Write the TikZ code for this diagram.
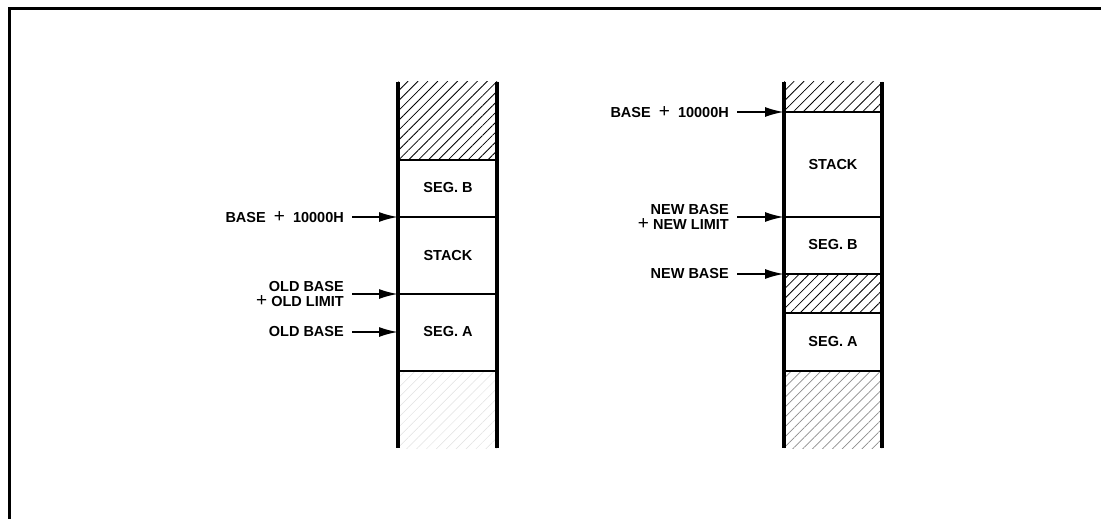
\documentclass[tikz,border=0pt]{standalone}
\usepackage{fontspec}
\setmainfont{Liberation Sans}
\usetikzlibrary{patterns.meta,arrows.meta}
\begin{document}
\begin{tikzpicture}[x=1pt,y=-1pt,
  wall/.style={line width=3.6pt},
  divider/.style={line width=2pt},
  hatch/.style={pattern={Lines[angle=45,distance=7pt,line width=0.8pt]}},
  fadehatch/.style={pattern={Lines[angle=45,distance=7pt,line width=0.7pt]},pattern color=black!45},
  faintest/.style={pattern={Lines[angle=45,distance=7pt,line width=0.5pt]},pattern color=black!12},
  lbl/.style={anchor=east,inner sep=0pt,align=right,font=\fontsize{14.5}{16}\selectfont\bfseries},
  seg/.style={inner sep=0pt,font=\fontsize{14.5}{16}\selectfont\bfseries},
  ptr/.style={line width=2pt,-{Latex[length=19pt,width=10pt]},shorten <=8pt}]
\newcommand{\pls}{{\mdseries\fontsize{19}{16}\selectfont+}}
\useasboundingbox (0,0) rectangle (1101,519);
% frame
\draw[line width=3pt] (9,519) -- (9,9) -- (1101,9);

% ---------------- left column ----------------
\fill[hatch] (398,82) rectangle (497,160);
\fill[faintest] (398,371) rectangle (497,448);
\draw[divider] (398,160) -- (497,160);
\draw[divider] (398,217) -- (497,217);
\draw[divider] (398,294) -- (497,294);
\draw[divider] (398,371) -- (497,371);
\draw[wall] (398,82) -- (398,448);
\draw[wall] (497,82) -- (497,448);
\node[seg] (lsegb) at (448,188) {SEG. B};
\node[seg] (lstack) at (448,256) {STACK};
\node[seg] (lsega) at (448,332) {SEG. A};

\coordinate (lp1) at (398,217);
\coordinate (lp2) at (398,294);
\coordinate (lp3) at (398,332);
\node[lbl] (ll1) at (344,217) {BASE\; \pls\; 10000H};
\node[lbl] (ll2) at (344,294) {OLD BASE\\[-1pt]\pls\ OLD LIMIT};
\node[lbl] (ll3) at (344,332) {OLD BASE};
\draw[ptr] (ll1.east) -- (lp1);
\draw[ptr] (ll2.east) -- (lp2);
\draw[ptr] (ll3.east) -- (lp3);

% ---------------- right column ----------------
\fill[hatch] (784,82) rectangle (882,112);
\fill[hatch] (784,274) rectangle (882,313);
\fill[fadehatch] (784,371) rectangle (882,448);
\draw[divider] (784,112) -- (882,112);
\draw[divider] (784,217) -- (882,217);
\draw[divider] (784,274) -- (882,274);
\draw[divider] (784,313) -- (882,313);
\draw[divider] (784,371) -- (882,371);
\draw[wall] (784,82) -- (784,448);
\draw[wall] (882,82) -- (882,448);
\node[seg] (rstack) at (833,165) {STACK};
\node[seg] (rsegb) at (833,245) {SEG. B};
\node[seg] (rsega) at (833,342) {SEG. A};

\coordinate (rp1) at (784,112);
\coordinate (rp2) at (784,217);
\coordinate (rp3) at (784,274);
\node[lbl] (rl1) at (729,112) {BASE\; \pls\; 10000H};
\node[lbl] (rl2) at (729,217) {NEW BASE\\[-1pt]\pls\ NEW LIMIT};
\node[lbl] (rl3) at (729,274) {NEW BASE};
\draw[ptr] (rl1.east) -- (rp1);
\draw[ptr] (rl2.east) -- (rp2);
\draw[ptr] (rl3.east) -- (rp3);
\end{tikzpicture}
\end{document}
